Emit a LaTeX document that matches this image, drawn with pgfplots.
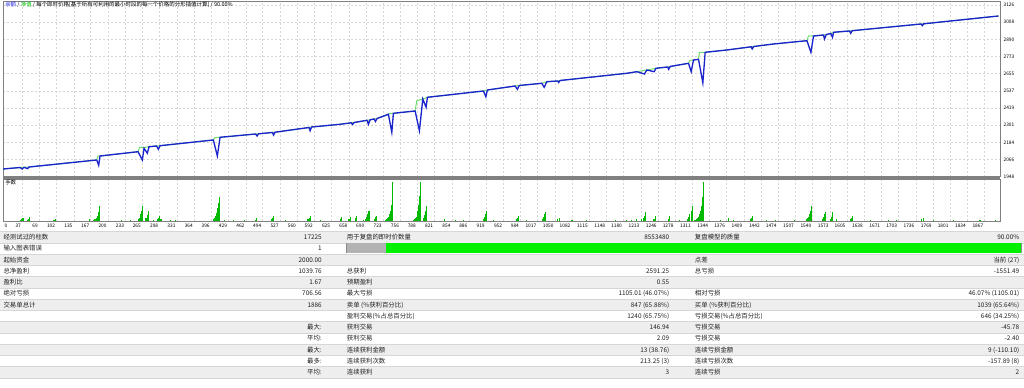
\documentclass[border=0pt]{standalone}
\usepackage{pgfplots}
\pgfplotsset{compat=1.18}
\usepackage{fontspec}
\setmainfont{Noto Sans CJK SC}
\definecolor{bal}{RGB}{28,36,205}
\definecolor{eq}{RGB}{110,220,110}
\definecolor{lot}{RGB}{0,185,0}
\definecolor{rowg}{RGB}{238,238,238}
\definecolor{rowl}{RGB}{214,214,214}
\definecolor{frame}{RGB}{128,128,128}
\definecolor{hdrb}{RGB}{40,40,230}
\definecolor{hdrg}{RGB}{0,190,0}
\definecolor{txt}{RGB}{30,30,30}
\newcommand\tf{\fontsize{4.8pt}{5.5pt}\selectfont}
\newcommand\kf{\fontsize{3.6pt}{4pt}\selectfont}
\newcommand\hf{\fontsize{4.1pt}{4.6pt}\selectfont}
\newcommand\trow[7]{%
  \pgfmathsetmacro\yb{237.3+(#1-1)*11.25+2.4}%
  \node[anchor=base west,inner sep=0,font=\tf,text=txt] at (3.3,\yb) {#2};%
  \node[anchor=base east,inner sep=0,font=\tf,text=txt] at (322,\yb) {#3};%
  \node[anchor=base west,inner sep=0,font=\tf,text=txt] at (346.7,\yb) {#4};%
  \node[anchor=base east,inner sep=0,font=\tf,text=txt] at (669.5,\yb) {#5};%
  \node[anchor=base west,inner sep=0,font=\tf,text=txt] at (694.7,\yb) {#6};%
  \node[anchor=base east,inner sep=0,font=\tf,text=txt] at (1019.5,\yb) {#7};%
}
\begin{document}
\begin{tikzpicture}
\useasboundingbox (0,0) rectangle (768pt,-291pt);
\begin{scope}[x=0.75pt,y=-0.75pt]
\foreach \k in {1,3,5,7,9,11,13} {\fill[rowg] (0,{231.7+(\k-1)*11.25}) rectangle (1024,{231.7+\k*11.25});}
\foreach \k in {0,...,13} {\draw[rowl,line width=0.4pt] (0,{231.7+\k*11.25}) -- (1024,{231.7+\k*11.25});}
\end{scope}

\begin{axis}[at={(2.25pt,-132.525pt)}, anchor=south west, scale only axis,
  width=747.75pt, height=131.4pt,
  xmin=0, xmax=1896, ymin=1948, ymax=3150,
  axis line style={draw=frame, line width=0.75pt},
  xtick={37,69,102,135,167,200,233,265,298,331,364,396,429,462,494,527,560,592,625,658,690,723,756,788,821,854,886,919,952,984,1017,1050,1082,1115,1148,1180,1213,1246,1278,1311,1344,1376,1409,1442,1474,1507,1540,1573,1605,1638,1671,1703,1736,1769,1801,1834,1867},
  xticklabels={},
  ytick={1948,2065.8,2183.6,2301.4,2419.2,2537,2654.8,2772.6,2890.4,3008.2,3126},
  yticklabels={1948,2066,2184,2301,2419,2537,2655,2773,2890,3008,3126},
  yticklabel pos=right,
  yticklabel style={font=\kf, anchor=west, inner sep=0pt, xshift=2.5pt},
  major tick length=0pt,
  grid=major, grid style={draw=black!16, line width=0.5pt, dash pattern=on 1.5pt off 1.5pt}]
\addplot[eq, line width=0.75pt, mark=none] coordinates {(0,2000.8)(32.3,2011.1)(39.9,2012.5)(49.5,2014.6)(178.2,2062.6)(180.5,2090)(184.5,2090.0)(256.8,2119.5)(259.8,2149.7)(268.2,2148)(277.7,2153.8)(298.6,2160.7)(400.0,2199.8)(403,2216)(412.8,2218.3)(480.3,2240.9)(486.0,2242.3)(512.6,2251.3)(517.4,2253.3)(582.1,2285.6)(586.8,2289.0)(641.0,2307.5)(662.0,2317.8)(667.7,2319.9)(692.4,2335.0)(698.1,2338.4)(705.7,2343.9)(711.4,2347.3)(732.9,2376.1)(736,2383)(742.4,2383.0)(783.7,2398.8)(786.9,2469.4)(798.3,2481.1)(807.1,2492.8)(913.6,2536.0)(921.2,2542.9)(973.9,2570.3)(981.5,2573.7)(1024.7,2588.8)(1034.2,2599.8)(1054.8,2604.6)(1059.5,2608.0)(1186.4,2657.4)(1205.4,2668.4)(1224.4,2680.1)(1241.6,2691.7)(1264.0,2700.6)(1268.8,2704.1)(1303.6,2726.0)(1306,2746)(1313.1,2748.7)(1322.6,2753.5)(1324.5,2801.5)(1335.3,2801.5)(1376.6,2817.3)(1422.8,2839.2)(1427.6,2841.3)(1465.3,2858.5)(1528.8,2881.1)(1531.7,2913.3)(1541.4,2913.3)(1560.4,2920.2)(1565.5,2923.0)(1574.1,2930.5)(1579.4,2938.8)(1609.8,2947.7)(1614.9,2949.7)(1746.2,2995.7)(1751.0,2997.1)(1893.2,3050.6)};
\addplot[bal, line width=1pt, mark=none] coordinates {(0,2000.8)(32.3,2011.1)(36.5,2000.8)(39.9,2012.5)(46.6,2003.6)(49.5,2014.6)(178.2,2062.6)(182.0,2026.2)(184.5,2090.0)(256.8,2119.5)(265.0,2062.6)(268.2,2142.9)(274.5,2108.5)(277.7,2153.8)(292.0,2158.6)(295.4,2136.0)(298.6,2160.7)(400.0,2199.8)(407.6,2090.0)(412.8,2218.3)(480.3,2240.9)(483.2,2227.0)(486.0,2242.3)(512.6,2251.3)(514.5,2234.1)(517.4,2253.3)(582.1,2285.6)(584.0,2263.6)(586.8,2289.0)(641.0,2307.5)(662.0,2317.8)(664.8,2306.1)(667.7,2319.9)(692.4,2335.0)(694.9,2307.5)(698.1,2338.4)(705.7,2343.9)(708.2,2326.7)(711.4,2347.3)(732.9,2376.1)(739.4,2252.6)(742.4,2383.0)(783.7,2398.8)(791.9,2263.6)(798.3,2481.1)(804.6,2424.2)(807.1,2492.8)(913.6,2536.0)(918.2,2496.9)(921.2,2542.9)(973.9,2570.3)(978.3,2547.6)(981.5,2573.7)(1024.7,2588.8)(1029.1,2561.4)(1034.2,2599.8)(1054.8,2604.6)(1056.7,2594.3)(1059.5,2608.0)(1186.4,2657.4)(1205.4,2668.4)(1219.9,2652.6)(1224.4,2680.1)(1238.3,2668.4)(1241.6,2691.7)(1264.0,2700.6)(1265.9,2684.9)(1268.8,2704.1)(1303.6,2726.0)(1308.7,2668.4)(1313.1,2748.7)(1322.6,2753.5)(1330.9,2592.9)(1335.3,2801.5)(1376.6,2817.3)(1422.8,2839.2)(1424.7,2824.2)(1427.6,2841.3)(1465.3,2858.5)(1528.8,2881.1)(1536.4,2801.5)(1541.4,2913.3)(1560.4,2920.2)(1562.3,2892.8)(1565.5,2923.0)(1574.1,2930.5)(1577.5,2904.4)(1579.4,2938.8)(1609.8,2947.7)(1612.1,2931.9)(1614.9,2949.7)(1746.2,2995.7)(1748.1,2984.0)(1751.0,2997.1)(1893.2,3050.6)};
\end{axis}

\begin{axis}[at={(2.25pt,-166.125pt)}, anchor=south west, scale only axis,
  width=747.75pt, height=31.5pt,
  xmin=0, xmax=1896, ymin=-0.8, ymax=41.2,
  axis line style={draw=frame, line width=0.75pt},
  xtick={37,69,102,135,167,200,233,265,298,331,364,396,429,462,494,527,560,592,625,658,690,723,756,788,821,854,886,919,952,984,1017,1050,1082,1115,1148,1180,1213,1246,1278,1311,1344,1376,1409,1442,1474,1507,1540,1573,1605,1638,1671,1703,1736,1769,1801,1834,1867},
  ytick=\empty,
  /pgf/number format/1000 sep={}, /pgf/number format/assume math mode=true,
  xticklabel style={font=\kf, anchor=north east, inner sep=0.5pt, xshift=-0.5pt, yshift=-1pt},
  extra x ticks={0},
  extra x tick style={xticklabel style={anchor=north west, xshift=1pt}, grid=none},
  major tick length=0pt,
  xmajorgrids, grid style={draw=black!16, line width=0.5pt, dash pattern=on 1.5pt off 1.5pt}]
\addplot[ycomb, lot, line width=0.8pt, mark=none] coordinates {(34,1)(36,2)(38,3)(46,1)(48,2)(50,3.3)(97,1)(99,2)(165,1.7)(171.8,1)(175,1.5)(177,2.5)(179,5)(181,9)(183,14.7)(225.8,1)(241.6,1)(258,1.5)(260,3)(262,6.3)(264,10)(265.5,14.7)(272,3)(274,6)(276,9.7)(285.9,1)(293,2)(295,3)(297,5)(300.5,2)(317.7,1)(327.2,1)(400,1.5)(402,3)(404,5)(406,8)(408,12.3)(410,18)(411.5,24)(420.4,1)(438,1)(460,1)(480,1)(482,2.3)(510,1.5)(512,3)(514,5)(536.4,1)(580,1.5)(582,3)(584,5)(604.3,1)(642,2)(644.3,3.3)(658,2)(660,3.3)(670,3)(672.8,5)(685.4,1)(690,2)(692,4)(694,6.5)(696,9.7)(706,2)(708,3.5)(710,5)(727,1)(729,1.5)(731,2.5)(733,4)(735,6.5)(737,10)(738.5,15.7)(740,25)(741.5,39)(780,1)(782,1.5)(784,2.5)(786,4)(787.5,6.5)(789,10)(790.5,15.7)(792,25)(793.5,39)(800,3)(802,6)(804,10)(806,15)(839.5,1.5)(860,1)(875,1)(914,2)(916,4)(918,6.5)(920,9.7)(932.6,1)(976,1.5)(978,3)(980,4.3)(996,1)(1026,2)(1028,4)(1030,6.5)(1032,9)(1055,1.5)(1058,3)(1082,1)(1110,1)(1164,1)(1186,1)(1196,1)(1205,1.5)(1215,2)(1218,3)(1220,5)(1222,9)(1238,2)(1241,4.3)(1265,2)(1268,4.3)(1286,1)(1302,2)(1304,4)(1306,6.5)(1309,10)(1311,14.3)(1316,1)(1318,1.5)(1320,2.5)(1322,4)(1324,6.5)(1326,10)(1328,15)(1330,24)(1332,38.3)(1364,1)(1379.7,2.3)(1389,1)(1421,2)(1423,3)(1425,4.3)(1452.7,1)(1468.5,1)(1506,1)(1529,1.5)(1530,2.5)(1532,4)(1534,6.5)(1536,10)(1538,14.3)(1558,2)(1560,4)(1562,6.5)(1563.6,9)(1573,2)(1575,4)(1577,6.5)(1578.3,9)(1585.9,1.5)(1611,2)(1613,3)(1615,4.3)(1649,1)(1684,1)(1700,1)(1747,1.5)(1750,3)(1769,1)(1807,1)(1858,1)(1887,1)};
\end{axis}

\begin{axis}[at={(260.025pt,-189.525pt)}, anchor=south west, scale only axis,
  width=505.725pt, height=7.05pt,
  xmin=0, xmax=100, ymin=0, ymax=1,
  xtick=\empty, ytick=\empty,
  axis line style={draw=black!45, line width=0.4pt}]
\addplot[fill=black!30, draw=none] coordinates {(0,1)(5.83,1)} \closedcycle;
\addplot[fill={rgb,255:red,0;green,240;blue,0}, draw=none] coordinates {(5.83,1)(100,1)} \closedcycle;
\end{axis}

\begin{scope}[x=0.75pt,y=-0.75pt]
\draw[frame, line width=1.6pt] (3,178) -- (1000,178);
\node[anchor=base west, inner sep=0, font=\hf] at (5,6.9) {{\color{hdrb}余额} / {\color{hdrg}净值} / 每个即时价格[基于所有可利用的最小时段的每一个价格的分形插值计算] / 90.00\%};
\node[anchor=base west, inner sep=0, font=\hf] at (5,184.4) {手数};
\trow{1}{经测试过的柱数}{17225}{用于复盘的即时价数量}{8553480}{复盘模型的质量}{90.00\%}
\trow{2}{输入图表错误}{1}{}{}{}{}
\trow{3}{起始资金}{2000.00}{}{}{点差}{当前 (27)}
\trow{4}{总净盈利}{1039.76}{总获利}{2591.25}{总亏损}{-1551.49}
\trow{5}{盈利比}{1.67}{预期盈利}{0.55}{}{}
\trow{6}{绝对亏损}{706.56}{最大亏损}{1105.01 (46.07\%)}{相对亏损}{46.07\% (1105.01)}
\trow{7}{交易单总计}{1886}{卖单 (\%获利百分比)}{847 (65.88\%)}{买单 (\%获利百分比)}{1039 (65.64\%)}
\trow{8}{}{}{盈利交易(\%占总百分比)}{1240 (65.75\%)}{亏损交易(\%占总百分比)}{646 (34.25\%)}
\trow{9}{}{最大:}{获利交易}{146.94}{亏损交易}{-45.78}
\trow{10}{}{平均:}{获利交易}{2.09}{亏损交易}{-2.40}
\trow{11}{}{最大:}{连续获利金额}{13 (38.76)}{连续亏损金额}{9 (-110.10)}
\trow{12}{}{最多:}{连续获利次数}{213.25 (3)}{连续亏损次数}{-157.89 (8)}
\trow{13}{}{平均:}{连续获利}{3}{连续亏损}{2}
\end{scope}
\end{tikzpicture}
\end{document}
